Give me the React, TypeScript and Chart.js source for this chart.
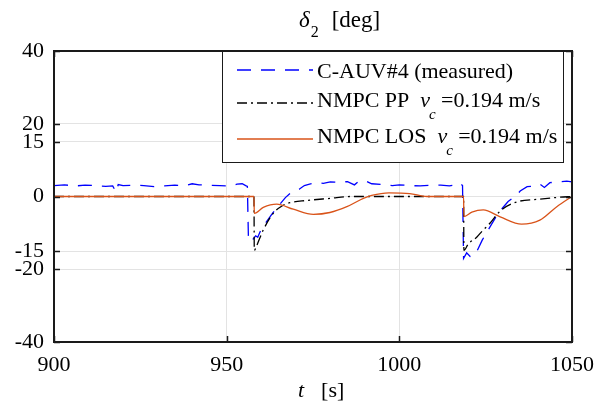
import React, { useEffect, useRef } from "react";
import { Chart, registerables } from "chart.js";
Chart.register(...registerables);

// ---- data ----
const tMeasured = [
  900, 903, 906, 909, 912, 915, 917, 918, 918.6, 920, 923, 926, 929, 932, 935, 938, 940, 942, 945, 948,
  951, 953, 954.5, 955.5, 956, 956.3, 957, 957.6, 958.4, 959, 960, 961.5, 963, 964, 965.5, 967, 968.5,
  969.5, 971, 972.5, 974, 976, 978, 980, 982, 985, 987, 988, 990, 992, 995, 998, 1000, 1003, 1006, 1009,
  1012, 1014.5, 1016, 1017.5, 1018.3, 1018.6, 1019.5, 1020.5, 1022, 1024, 1026.3, 1028.6, 1031.5, 1034,
  1035, 1037, 1039, 1040.7, 1042, 1043.6, 1046, 1048.5, 1050,
];
const deltaMeasured = [
  3.0, 3.2, 2.9, 3.1, 3.0, 2.8, 2.9, 1.2, 3.3, 3.0, 3.1, 3.0, 2.7, 2.9, 3.1, 3.0, 3.5, 3.2, 3.1, 3.0,
  2.9, 3.4, 3.5, 3.0, 2.8, -11.5, -12.5, -11.8, -10.8, -11.2, -9.0, -7.0, -5.0, -3.7, -2.0, -0.3, 1.0,
  1.3, 2.0, 3.0, 3.4, 3.8, 3.6, 4.0, 3.9, 4.1, 3.2, 4.0, 4.4, 3.5, 3.3, 3.0, 3.2, 3.0, 2.9, 3.1,
  3.1, 2.9, 3.2, 3.7, 3.0, -17.0, -15.5, -16.5, -16.0, -12.0, -8.3, -4.6, -1.4, 0.4,
  1.5, 2.7, 2.8, 3.4, 2.5, 3.8, 4.0, 4.2, 4.0,
];
const tPP = [
  900, 957.9, 958.0, 958.7, 960.6, 963.5, 966, 968.3, 973.2, 980, 985.7, 1018.6, 1018.7, 1020, 1022.4,
  1024, 1026.3, 1029.2, 1034, 1039.8, 1046.5, 1050,
];
const deltaPP = [
  0, 0, -14.8, -13.5, -9.2, -4.6, -2.6, -1.7, -1.1, -0.5, 0, 0, -14.8, -13.0, -11.2,
  -9.5, -7.3, -4.0, -1.5, -0.8, -0.2, 0,
];
const tLOS = [
  900, 957.9, 958.0, 960.6, 964.5, 969.3, 975.1, 979.9, 984.8, 989.6, 992, 997, 1003, 1008, 1018.6,
  1018.7, 1021, 1024.3, 1029.2, 1035.4, 1040.7, 1045.6, 1050,
];
const deltaLOS = [
  0, 0, -4.6, -3.0, -2.1, -3.5, -4.9, -4.4, -2.8, -0.5, 0.3, 1.0, 0.8, 0, 0,
  -5.5, -4.3, -3.7, -5.6, -7.6, -6.5, -2.8, 0,
];
const xTicks = [900, 950, 1000, 1050];
const yTicks = [-40, -20, -15, 0, 15, 20, 40];
const seriesNames = ["C-AUV#4 (measured)", "NMPC PP", "NMPC LOS"];
const speedText = "=0.194 m/s";
const titleSymbol = "δ";
const titleSub = "2";
const titleUnit = "[deg]";
const xLabelSymbol = "t";
const xLabelUnit = "[s]";

const SERIF = "'Liberation Serif', 'Times New Roman', serif";
const BLUE = "#0000ff";
const BLACK = "#000000";
const ORANGE = "#d95319";

const pts = (xs: number[], ys: number[]) => xs.map((x, i) => ({ x, y: ys[i] }));

const decorPlugin = {
  id: "decor",
  afterDraw(chart: any) {
    const { ctx, chartArea: a, scales } = chart;
    const xs = scales.x;
    const ys = scales.y;
    ctx.save();
    const seg = (x1: number, y1: number, x2: number, y2: number) => {
      ctx.beginPath();
      ctx.moveTo(x1, y1);
      ctx.lineTo(x2, y2);
      ctx.stroke();
    };
    // inward ticks
    ctx.strokeStyle = "#1a1a1a";
    ctx.lineWidth = 1.5;
    ctx.setLineDash([]);
    const L = 6;
    xTicks.forEach((v) => {
      const p = Math.round(xs.getPixelForValue(v)) + 0.5;
      seg(p, a.bottom, p, a.bottom - L);
      seg(p, a.top, p, a.top + L);
    });
    yTicks.forEach((v) => {
      const p = Math.round(ys.getPixelForValue(v)) + 0.5;
      seg(a.left, p, a.left + L, p);
      seg(a.right, p, a.right - L, p);
    });
    // frame
    ctx.lineWidth = 2;
    ctx.strokeStyle = "#1a1a1a";
    ctx.strokeRect(a.left, a.top, a.right - a.left, a.bottom - a.top);

    // title
    ctx.fillStyle = "#000";
    ctx.textBaseline = "alphabetic";
    ctx.textAlign = "left";
    ctx.font = `italic 23px ${SERIF}`;
    const wd = ctx.measureText(titleSymbol).width;
    ctx.font = `16px ${SERIF}`;
    const w2 = ctx.measureText(titleSub).width;
    let x0 = 299;
    const ty = 27;
    ctx.font = `italic 23px ${SERIF}`;
    ctx.fillText(titleSymbol, x0, ty);
    ctx.font = `16px ${SERIF}`;
    ctx.fillText(titleSub, x0 + wd + 1, ty + 10);
    ctx.font = `23px ${SERIF}`;
    ctx.fillText(titleUnit, x0 + wd + w2 + 14, ty);

    // x label
    ctx.font = `italic 22px ${SERIF}`;
    const wt = ctx.measureText(xLabelSymbol).width;
    x0 = 298;
    const xy = 397;
    ctx.fillText(xLabelSymbol, x0, xy);
    ctx.font = `22px ${SERIF}`;
    ctx.fillText(xLabelUnit, x0 + wt + 17, xy);

    // legend
    const lx = 222;
    const lr = 564;
    const lt = a.top;
    const lb = 163;
    ctx.fillStyle = "#fff";
    ctx.fillRect(lx, lt, lr - lx, lb - lt);
    ctx.strokeStyle = "#1a1a1a";
    ctx.lineWidth = 1;
    ctx.strokeRect(lx + 0.5, lt + 0.5, lr - lx - 1, lb - lt - 1);
    const rows = [
      { lineY: 70, textY: 72, color: BLUE, dash: [14, 10], name: seriesNames[0], speed: false },
      { lineY: 103, textY: 101, color: BLACK, dash: [10, 4, 2, 4], name: seriesNames[1], speed: true },
      { lineY: 139, textY: 137, color: ORANGE, dash: [], name: seriesNames[2], speed: true },
    ];
    rows.forEach((r) => {
      ctx.strokeStyle = r.color;
      ctx.lineWidth = 1.3;
      ctx.setLineDash(r.dash);
      seg(237, r.lineY, 313, r.lineY);
      ctx.setLineDash([]);
      ctx.fillStyle = "#000";
      ctx.textBaseline = "middle";
      ctx.font = `22px ${SERIF}`;
      ctx.fillText(r.name, 317, r.textY);
      if (r.speed) {
        let x = 317 + ctx.measureText(r.name).width + 11;
        ctx.font = `italic 22px ${SERIF}`;
        ctx.fillText("v", x, r.textY);
        const wv = ctx.measureText("v").width;
        ctx.font = `italic 15px ${SERIF}`;
        ctx.fillText("c", x + wv - 1, r.textY + 14);
        ctx.font = `22px ${SERIF}`;
        ctx.fillText(speedText, x + wv + 11, r.textY);
      }
    });
    ctx.restore();
  },
};

export default function App() {
  const ref = useRef<HTMLCanvasElement | null>(null);
  useEffect(() => {
    document.body.style.margin = "0";
    const canvas = ref.current;
    if (!canvas) return;
    const chart = new Chart(canvas, {
      type: "line",
      data: {
        datasets: [
          {
            label: seriesNames[0],
            data: pts(tMeasured, deltaMeasured),
            borderColor: BLUE,
            borderWidth: 1.3,
            borderDash: [14, 10],
            pointRadius: 0,
            tension: 0,
            order: 3,
          },
          {
            label: seriesNames[1],
            data: pts(tPP, deltaPP),
            borderColor: BLACK,
            borderWidth: 1.3,
            borderDash: [10, 4, 2, 4],
            pointRadius: 0,
            cubicInterpolationMode: "monotone",
            order: 2,
          },
          {
            label: seriesNames[2],
            data: pts(tLOS, deltaLOS),
            borderColor: ORANGE,
            borderWidth: 1.3,
            pointRadius: 0,
            cubicInterpolationMode: "monotone",
            order: 1,
          },
        ],
      },
      options: {
        responsive: false,
        animation: false,
        devicePixelRatio: 1,
        layout: { padding: { top: 51, right: 25, left: 0, bottom: 0 } },
        plugins: { legend: { display: false }, tooltip: { enabled: false }, title: { display: false } },
        scales: {
          x: {
            type: "linear",
            min: 900,
            max: 1050,
            afterBuildTicks: (s: any) => {
              s.ticks = xTicks.map((v) => ({ value: v }));
            },
            afterFit: (s: any) => {
              s.height = 70;
              s.paddingLeft = 0;
              s.paddingRight = 0;
            },
            ticks: {
              autoSkip: false,
              maxRotation: 0,
              color: "#000",
              padding: 10,
              font: { family: SERIF, size: 22 },
              callback: (v: any) => String(v),
            },
            grid: { color: "#e3e3e3", lineWidth: 1, drawTicks: false },
            border: { display: false },
          },
          y: {
            type: "linear",
            min: -40,
            max: 40,
            afterBuildTicks: (s: any) => {
              s.ticks = yTicks.map((v) => ({ value: v }));
            },
            afterFit: (s: any) => {
              s.width = 54;
              s.paddingTop = 0;
              s.paddingBottom = 0;
            },
            ticks: {
              autoSkip: false,
              color: "#000",
              padding: 10,
              font: { family: SERIF, size: 22 },
              callback: (v: any) => String(v),
            },
            grid: { color: "#e3e3e3", lineWidth: 1, drawTicks: false },
            border: { display: false },
          },
        },
      },
      plugins: [decorPlugin],
    } as any);
    return () => chart.destroy();
  }, []);
  return (
    <div style={{ position: "fixed", left: 0, top: 0, width: 597, height: 412, background: "#fff" }}>
      <canvas ref={ref} width={597} height={412} style={{ display: "block" }} />
    </div>
  );
}
